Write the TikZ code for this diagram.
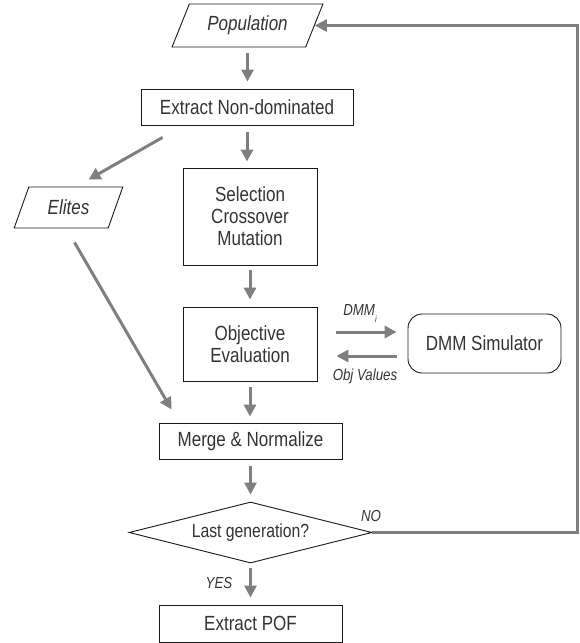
\documentclass[tikz,border=0pt]{standalone}
\usepackage{fontspec}
\setmainfont{Liberation Sans}[FakeStretch=0.83]
\usetikzlibrary{shapes.geometric,arrows.meta,calc}
\definecolor{arrgray}{HTML}{7F7F7F}
\definecolor{txtgray}{HTML}{333333}
\begin{document}
\begin{tikzpicture}[x=1pt,y=-1pt,
  base/.style={draw=black!90, line width=0.9pt, text=txtgray, inner sep=0pt, align=center,
     font=\fontsize{20.5}{22}\selectfont},
  boxnode/.style={base, rectangle},
  paranode/.style={base, trapezium, trapezium stretches=true},
  roundnode/.style={base, rectangle, rounded corners=14pt},
  dianode/.style={base, diamond, aspect=4, font=\fontsize{19}{21}\selectfont},
  arr/.style={draw=arrgray, line width=3pt, -{Triangle[width=12pt,length=12pt]}},
  lbl/.style={text=txtgray, inner sep=0pt, font=\fontsize{16}{18}\selectfont\itshape}
]
\useasboundingbox (0,0) rectangle (579,643);

\node[paranode, trapezium left angle=58, trapezium right angle=122,
      minimum width=151pt, minimum height=43pt] (pop) at (247.5,25.5) {\textit{Population}};
\node[boxnode, minimum width=212pt, minimum height=36pt] (ext) at (247,107) {Extract Non-dominated};
\node[paranode, trapezium left angle=63, trapezium right angle=117,
      minimum width=109pt, minimum height=41pt] (eli) at (68.5,207.5) {\textit{Elites}};
\node[boxnode, minimum width=134pt, minimum height=97pt] (sel) at (250,216.5) {Selection\\Crossover\\Mutation};
\node[boxnode, minimum width=134pt, minimum height=74pt] (obj) at (250,344) {Objective\\Evaluation};
\node[roundnode, minimum width=153pt, minimum height=59pt] (dmm) at (484.5,343.5) {DMM Simulator};
\node[boxnode, minimum width=183pt, minimum height=36pt] (mer) at (250.5,441) {Merge \& Normalize};
\node[dianode, minimum width=243pt, minimum height=61pt] (dia) at (250.5,532.5) {Last generation?};
\node[boxnode, minimum width=183pt, minimum height=37pt] (pof) at (250.5,623.5) {Extract POF};

\coordinate (fbr) at (577.5,25.5);

% main flow
\draw[arr, shorten <=6pt, shorten >=7pt] (pop.south) -- (pop.south |- ext.north);
\draw[arr, shorten <=7pt, shorten >=6pt] (ext.south) -- (ext.south |- sel.north);
\draw[arr, shorten <=5pt, shorten >=7pt] (sel.south) -- (obj.north);
\draw[arr, shorten <=6pt, shorten >=6pt] (obj.south) -- (obj.south |- mer.north);
\draw[arr, shorten <=7pt, shorten >=7pt] (mer.south) -- (dia.north);
\draw[arr, shorten <=5pt, shorten >=7pt] (dia.south) -- (pof.north);

% elites
\draw[arr] ([shift={(22,12)}]ext.south west) -- ([shift={(20,-7)}]eli.north);
\draw[arr] ([shift={(6,14)}]eli.south) -- ([shift={(13,-13)}]mer.north west);

% simulator
\draw[arr, shorten <=19pt, shorten >=11pt] ([yshift=12pt]obj.east) -- ([yshift=12pt]obj.east -| dmm.west);
\draw[arr, shorten <=11pt, shorten >=19pt] ([yshift=-12pt]obj.east -| dmm.west) -- ([yshift=-12pt]obj.east);
\node[lbl] (dmmi) at (360,313) {DMM\raisebox{-7pt}{\fontsize{9}{10}\selectfont\itshape i}};
\node[lbl] (objv) at (365,376) {Obj Values};

% feedback
\draw[arr, line width=2.7pt] (dia.east) -| (pop.east -| fbr) -- (pop.east);
\node[lbl] (no) at (371,516) {NO};
\node[lbl] (yes) at (219,583) {YES};
\end{tikzpicture}
\end{document}
